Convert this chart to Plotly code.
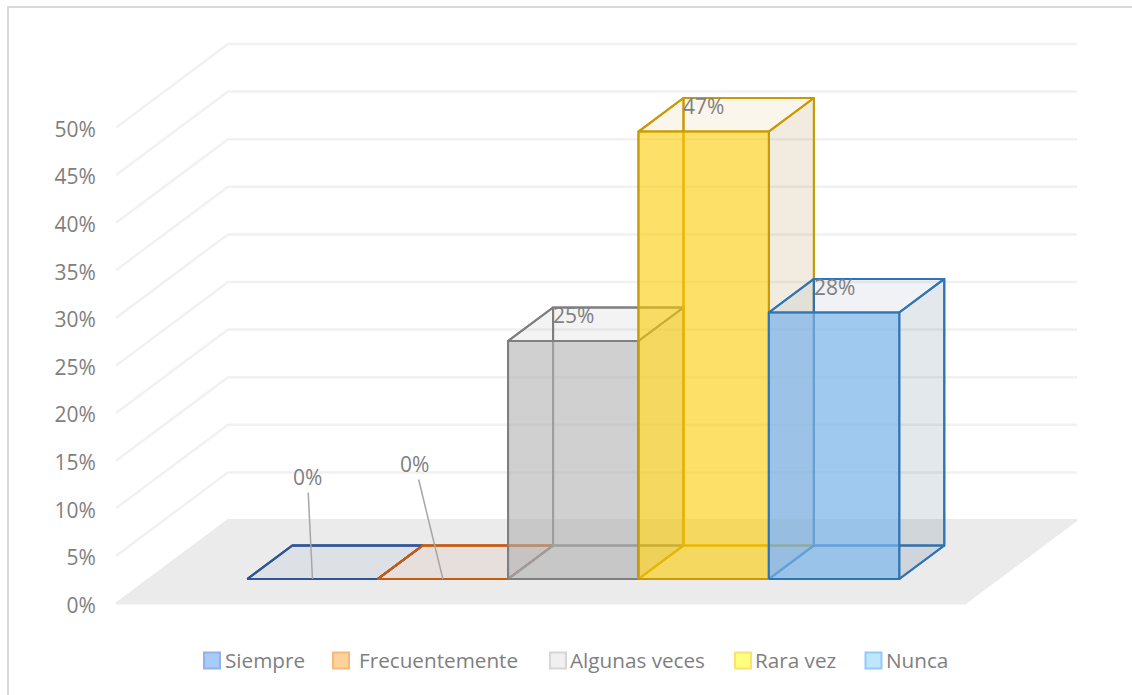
import plotly.graph_objects as go

# Chart content
categories = ["Siempre", "Frecuentemente", "Algunas veces", "Rara vez", "Nunca"]
values = [0, 0, 25, 47, 28]
value_labels = ["0%", "0%", "25%", "47%", "28%"]
tick_values = [0, 5, 10, 15, 20, 25, 30, 35, 40, 45, 50]
tick_labels = ["0%", "5%", "10%", "15%", "20%", "25%", "30%", "35%", "40%", "45%", "50%"]

# Series styling
edge_colors = ["#2f5597", "#c55a11", "#7f7f7f", "#c99a06", "#2e75b6"]
front_fill = ["rgba(47,85,151,0.03)", "rgba(197,90,17,0.03)", "rgba(177,177,177,0.60)",
              "rgba(252,203,3,0.60)", "rgba(119,178,234,0.70)"]
top_fill = ["rgba(47,85,151,0.03)", "rgba(197,90,17,0.035)", "rgba(127,127,127,0.09)",
            "rgba(191,144,0,0.08)", "rgba(60,90,130,0.08)"]
bottom_fill = ["rgba(47,85,151,0.03)", "rgba(197,90,17,0.035)", "rgba(127,127,127,0.01)",
               "rgba(191,144,0,0.01)", "rgba(60,90,130,0.01)"]
side_fill = ["rgba(47,85,151,0.01)", "rgba(197,90,17,0.01)", "rgba(127,127,127,0.15)",
             "rgba(160,130,40,0.15)", "rgba(60,90,130,0.14)"]
legend_fill = ["#a9cbfa", "#fdd39b", "#f0f0f0", "#ffff80", "#bde7ff"]
legend_edge = ["#8fb4ea", "#fbb77a", "#d6d6d6", "#fde06f", "#94c9f7"]

# Oblique projection of the 3D box: x is in category slots, y in percent points
WIDTH, HEIGHT = 1132, 695
X_ORIGIN, Y_ORIGIN = 116, 603.5
PLOT_BOTTOM = 630
PX_PER_SLOT, PX_PER_PCT = 130.4, 9.52
DEPTH_X, DEPTH_Y = 112 / PX_PER_SLOT, 83.5 / PX_PER_PCT
FLOOR_SLOTS = 6.51
SLOT_GAP = 0.755
BAR_NEAR, BAR_FAR = 0.293, 0.695
TEXT = "#7f7f7f"
FONT = "Open Sans"
SIZE = 21

# Legend row layout, in page pixels
LEGEND_SWATCH_X = [204, 333, 550, 735, 865.5]
LEGEND_TEXT_X = [223.5, 357.5, 568.5, 753.5, 884.5]
LEGEND_SWATCH_SIZE = 16
LEGEND_Y = 660.5
LEGEND_TEXT_Y = 659.5
LEGEND_FONT_SIZE = 20.7

plot_w = WIDTH - X_ORIGIN


def paper_x(px):
    return (px - X_ORIGIN) / plot_w


def paper_y(py):
    return (PLOT_BOTTOM - py) / PLOT_BOTTOM


def project(x, v, depth):
    return x + depth * DEPTH_X, v + depth * DEPTH_Y


def polygon(corners, fill, line=None, width=2):
    pts = [project(*c) for c in corners]
    pts.append(pts[0])
    return go.Scatter(
        x=[p[0] for p in pts], y=[p[1] for p in pts], mode="lines",
        fill="toself", fillcolor=fill,
        line=dict(color=line or "rgba(0,0,0,0)", width=width),
        hoverinfo="skip", showlegend=False,
    )


fig = go.Figure()

# Floor of the box
fig.add_trace(polygon([(0, 0, 0), (FLOOR_SLOTS, 0, 0), (FLOOR_SLOTS, 0, 1), (0, 0, 1)],
                      "#ebebeb", "#ebebeb"))

# Gridlines run along the side wall, then across the back wall
gx, gy = [], []
for t in tick_values[1:]:
    for c in [(0, t, 0), (0, t, 1), (FLOOR_SLOTS, t, 1)]:
        px, py = project(*c)
        gx.append(px)
        gy.append(py)
    gx.append(None)
    gy.append(None)
fig.add_trace(go.Scatter(x=gx, y=gy, mode="lines", line=dict(color="#f1f1f1", width=2.5),
                         hoverinfo="skip", showlegend=False))

# One translucent box per category, painted back to front
for i, v in enumerate(values):
    x0 = SLOT_GAP + i
    x1 = x0 + 1
    n, f = BAR_NEAR, BAR_FAR
    edge = edge_colors[i]
    faces = [
        ([(x0, 0, n), (x1, 0, n), (x1, 0, f), (x0, 0, f)], bottom_fill[i]),
        ([(x0, 0, f), (x1, 0, f), (x1, v, f), (x0, v, f)], "rgba(255,255,255,0)"),
        ([(x0, 0, n), (x0, 0, f), (x0, v, f), (x0, v, n)], "rgba(255,255,255,0)"),
        ([(x1, 0, n), (x1, 0, f), (x1, v, f), (x1, v, n)], side_fill[i]),
        ([(x0, v, n), (x1, v, n), (x1, v, f), (x0, v, f)], top_fill[i]),
        ([(x0, 0, n), (x1, 0, n), (x1, v, n), (x0, v, n)], front_fill[i]),
    ]
    for corners, fill in faces:
        fig.add_trace(polygon(corners, fill, edge))

# Value labels: zero bars get a leader line, the others sit at the back top corner
leader_offsets = {0: (-5, -102), 1: (-28, -115)}
for i, v in enumerate(values):
    if i in leader_offsets:
        ax, ay = leader_offsets[i]
        px, py = project(SLOT_GAP + i + 0.5, v, BAR_NEAR)
        fig.add_annotation(x=px, y=py, text=value_labels[i], showarrow=True, arrowhead=0,
                           arrowwidth=1.5, arrowcolor="#a6a6a6", ax=ax, ay=ay,
                           font=dict(family=FONT, size=SIZE, color=TEXT))
    else:
        px, py = project(SLOT_GAP + i, v, BAR_FAR)
        fig.add_annotation(x=px, y=py, text=value_labels[i], showarrow=False,
                           xanchor="left", yanchor="top", xshift=-2, yshift=8,
                           font=dict(family=FONT, size=SIZE, color=TEXT))

# Legend row: swatches and their captions
shapes = [dict(type="rect", xref="paper", yref="paper", layer="below",
               x0=paper_x(8), x1=paper_x(1140), y0=paper_y(700), y1=paper_y(7),
               line=dict(color="#d9d9d9", width=2), fillcolor="white")]
half = LEGEND_SWATCH_SIZE / 2
for i, name in enumerate(categories):
    left = LEGEND_SWATCH_X[i]
    shapes.append(dict(type="rect", xref="paper", yref="paper",
                       x0=paper_x(left), x1=paper_x(left + LEGEND_SWATCH_SIZE),
                       y0=paper_y(LEGEND_Y + half), y1=paper_y(LEGEND_Y - half),
                       line=dict(color=legend_edge[i], width=2), fillcolor=legend_fill[i]))
    fig.add_annotation(xref="paper", yref="paper", x=paper_x(LEGEND_TEXT_X[i]),
                       y=paper_y(LEGEND_TEXT_Y),
                       text=name, showarrow=False, xanchor="left", yanchor="middle", borderpad=0,
                       font=dict(family=FONT, size=LEGEND_FONT_SIZE, color=TEXT))

fig.update_layout(
    width=WIDTH, height=HEIGHT, autosize=False,
    margin=dict(l=X_ORIGIN, r=0, t=0, b=HEIGHT - PLOT_BOTTOM, pad=0),
    paper_bgcolor="white", plot_bgcolor="rgba(0,0,0,0)",
    shapes=shapes,
    showlegend=False,
    font=dict(family=FONT, size=SIZE, color=TEXT),
    xaxis=dict(visible=False, range=[0, plot_w / PX_PER_SLOT], fixedrange=True),
    yaxis=dict(range=[(Y_ORIGIN - PLOT_BOTTOM) / PX_PER_PCT, Y_ORIGIN / PX_PER_PCT],
               tickmode="array", tickvals=tick_values,
               ticktext=tick_labels, ticks="outside", ticklen=15, tickcolor="rgba(0,0,0,0)",
               ticklabelshift=2,
               showgrid=False, zeroline=False, showline=False, fixedrange=True,
               tickfont=dict(family=FONT, size=SIZE, color=TEXT)),
    hovermode=False,
)

fig.write_html("out.html", config=dict(displayModeBar=False))
